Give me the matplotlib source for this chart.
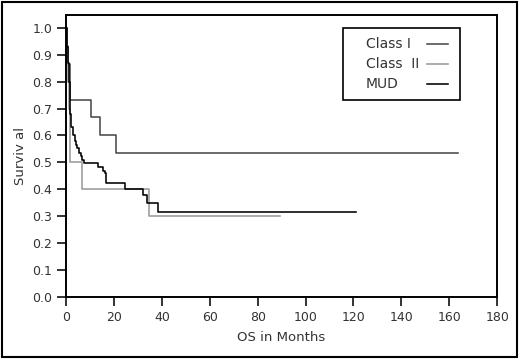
import matplotlib
matplotlib.use("Agg")
import matplotlib.pyplot as plt
from matplotlib.patches import Rectangle

# Kaplan-Meier style overall survival, three donor groups
class1_t = [0, 0.5, 1.0, 1.5, 1.8, 10.4, 14.2, 20.9, 163.7]
class1_s = [1.0, 0.933, 0.867, 0.8, 0.733, 0.667, 0.6, 0.533, 0.533]

class2_t = [0, 0.5, 0.8, 1.2, 1.5, 1.8, 6.8, 34.7, 89.4]
class2_s = [1.0, 0.9, 0.8, 0.7, 0.6, 0.5, 0.4, 0.3, 0.3]

mud_t = [0, 0.3, 0.7, 1.2, 1.5, 1.8, 2.2, 3.0, 3.8, 4.2, 4.7, 5.6, 6.1, 6.8, 7.5,
         13.5, 15.3, 16.3, 16.7, 24.6, 32.3, 33.7, 38.6, 121.0]
mud_s = [1.0, 0.93, 0.87, 0.80, 0.73, 0.68, 0.63, 0.60, 0.58, 0.565, 0.553, 0.535,
         0.525, 0.51, 0.496, 0.484, 0.469, 0.459, 0.424, 0.40, 0.378, 0.348, 0.316, 0.316]

names = ["Class I", "Class  II", "MUD"]
colors = ["#4a4a4a", "#9a9a9a", "black"]

xticks = [0, 20, 40, 60, 80, 100, 120, 140, 160, 180]
yticks = [0.0, 0.1, 0.2, 0.3, 0.4, 0.5, 0.6, 0.7, 0.8, 0.9, 1.0]

fig = plt.figure(figsize=(5.2, 3.59), dpi=100)
ax = fig.add_axes([0.127, 0.1735, 0.829, 0.7845])

series = [(class1_t, class1_s), (class2_t, class2_s), (mud_t, mud_s)]
for (t, s), c, n in zip(series, colors, names):
    ax.step(t, s, where="post", color=c, lw=1.15, label=n)

ax.set_xlim(0, 180)
ax.set_ylim(0, 1.048)
ax.set_xticks(xticks)
ax.set_yticks(yticks)
ax.set_yticklabels(["%.1f" % v for v in yticks])
ax.tick_params(direction="out", length=6.5, width=1.4, labelsize=9, colors="#333333")
ax.tick_params(axis="x", pad=4)
for sp in ax.spines.values():
    sp.set_linewidth(1.4)
ax.set_xlabel("OS in Months", fontsize=9.5, color="#333333", labelpad=5)
ax.set_ylabel("Surviv al", fontsize=9.5, color="#333333", labelpad=4)

# legend box: labels on the left, line samples on the right
ax.add_patch(Rectangle((0.642, 0.698), 0.272, 0.256, transform=ax.transAxes,
                       facecolor="white", edgecolor="black", lw=1.2, zorder=5))
rows_y = [0.897, 0.826, 0.755]
for n, c, yy in zip(names, colors, rows_y):
    ax.text(0.696, yy, n, transform=ax.transAxes, fontsize=10, color="#333333",
            va="center", ha="left", zorder=6)
    ax.plot([0.838, 0.886], [yy, yy], transform=ax.transAxes, color=c, lw=1.15,
            zorder=6)

fig.patches.append(Rectangle((0.004, 0.006), 0.99, 0.988, transform=fig.transFigure,
                             fill=False, edgecolor="black", lw=1.5))

fig.savefig("out.png", dpi=100)
